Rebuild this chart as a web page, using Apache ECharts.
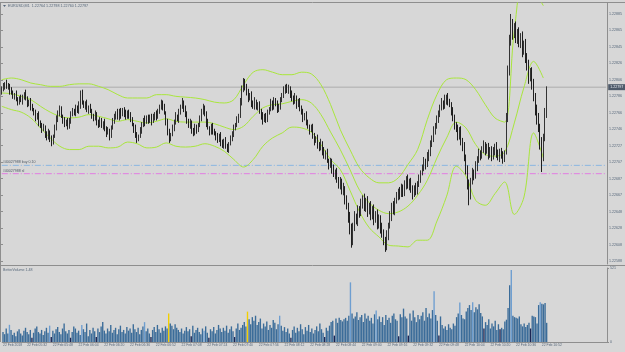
<!DOCTYPE html>
<html>
<head>
<meta charset="utf-8">
<script src="https://cdn.jsdelivr.net/npm/echarts@6/dist/echarts.min.js"></script>
<style>
  html, body { margin: 0; padding: 0; background: #d7d7d7; }
  #main { width: 625px; height: 352px; }
</style>
</head>
<body>
<div id="main"></div>
<script>
// EURUSD M1, 22 Feb 2018. prices kept as points (0.00001) above 1.22000
const BASE = 1.22
const firstOpen = 790
const closes = [
  795,798,801,797,799,793,790,786,788,782,
  779,784,781,785,789,783,777,780,774,770,
  766,760,763,755,751,746,749,741,737,742,
  735,731,738,749,758,767,771,762,757,752,
  755,750,758,764,769,766,772,768,775,790,
  779,774,777,770,773,768,763,759,764,756,
  752,757,750,754,747,742,745,739,748,756,
  762,766,760,768,764,770,765,761,767,763,
  758,752,747,740,735,738,745,752,758,755,
  760,757,762,756,760,765,761,768,774,778,
  772,766,755,744,735,740,748,755,762,758,
  767,773,779,772,764,757,750,754,746,742,
  749,745,752,758,768,773,765,754,748,743,
  750,745,741,737,733,739,731,727,733,726,
  722,729,735,741,747,752,758,762,778,795,
  803,798,790,783,788,778,774,780,772,776,
  768,762,757,763,758,766,771,778,774,781,
  776,770,775,781,787,793,798,792,796,789,
  784,779,785,776,780,772,766,760,764,755,
  750,745,748,739,733,736,728,724,730,721,
  715,718,709,704,708,698,692,696,686,680,
  684,672,676,663,655,640,628,612,630,642,
  636,650,645,657,664,652,660,648,655,643,
  650,638,645,632,640,628,622,612,605,618,
  630,642,655,648,660,665,672,668,677,670,
  680,686,678,684,674,668,676,672,680,687,
  694,700,708,704,713,718,728,736,744,750,
  758,766,772,778,774,781,785,779,776,768,
  760,752,746,738,745,733,725,712,698,680,
  668,684,695,690,702,710,718,714,722,728,
  720,725,716,722,713,719,726,718,712,720,
  715,710,718,760,815,850,872,860,868,855,
  862,849,856,840,848,832,822,808,815,800,
  785,770,758,748,730,712,735,764,797
]
// wick lengths above max(open, close) and below min(open, close), in points
const hiWick = [
  3,4,2,5,3,2,4,3,2,5, 3,2,4,3,2,5,3,2,4,3, 2,4,3,5,2,3,4,2,3,5, 3,4,2,3,5,2,4,3,2,4,
  3,5,2,4,3,2,4,3,5,3, 4,2,3,5,2,4,3,2,5,3, 2,4,3,2,5,3,4,2,3,4, 3,2,5,3,4,2,3,5,2,3,
  4,3,2,5,3,2,4,3,2,5, 3,4,2,3,5,2,4,3,2,4, 3,5,2,4,3,2,4,3,5,2, 4,3,5,2,3,4,2,5,3,2,
  4,3,2,5,3,4,2,3,5,2, 3,4,2,3,5,2,4,3,2,4, 3,2,4,3,5,2,4,3,6,4, 5,4,3,5,2,4,3,5,2,3,
  4,3,5,2,3,4,2,5,3,4, 3,5,2,4,3,5,2,3,4,2, 4,3,5,2,3,4,3,5,2,4, 3,2,4,5,3,2,4,3,5,2,
  4,3,5,2,4,3,6,2,4,3, 5,3,6,2,4,3,7,5,4,6, 3,5,4,6,3,5,4,6,3,5, 4,6,3,5,4,3,6,4,5,7,
  4,6,3,5,4,6,3,5,4,3, 5,4,6,3,4,5,3,6,4,5, 3,4,5,3,6,4,5,3,6,4, 5,3,4,6,3,7,3,5,4,3,
  5,4,3,6,4,5,3,6,4,5, 6,4,5,3,6,4,5,3,4,5, 3,4,5,3,4,6,3,5,4,3, 4,5,3,6,8,10,13,7,6,8,
  5,7,6,8,5,7,6,8,5,6, 7,5,6,8,5,7,6,8,1
]
const loWick = [
  2,3,4,2,3,5,2,3,4,2, 4,3,2,5,3,2,4,3,5,2, 3,4,2,5,3,4,2,5,4,3, 4,5,3,2,4,3,5,2,4,3,
  2,4,3,5,2,3,4,2,3,4, 3,2,4,3,5,2,4,3,2,5, 4,3,2,4,3,5,2,6,3,2, 3,4,2,3,5,2,4,3,2,4,
  3,2,5,4,5,3,2,4,3,5, 2,4,3,5,2,3,4,2,3,4, 3,2,4,5,5,3,2,4,3,2, 4,3,2,5,3,4,2,3,5,4,
  3,4,2,3,2,4,3,5,2,4, 3,5,2,4,3,2,5,3,4,3, 3,4,2,3,4,2,3,4,2,3, 4,5,3,4,2,5,3,4,2,3,
  3,4,5,2,4,3,2,3,5,4, 2,4,3,5,2,3,4,2,3,5, 4,3,2,5,3,4,2,5,3,4, 3,5,2,4,6,3,5,4,3,6,
  4,5,3,6,4,5,3,6,4,5, 6,4,5,7,5,6,8,8,5,6, 4,6,5,3,6,4,5,7,4,6, 5,7,4,6,5,7,6,5,6,4,
  5,3,6,4,5,3,4,6,3,5, 4,6,3,5,4,6,3,5,4,3, 5,3,4,6,3,5,4,3,5,4, 3,4,5,3,4,3,5,4,3,5,
  4,6,3,5,4,6,5,4,6,6, 13,6,4,5,3,6,4,5,3,4, 5,3,6,4,5,3,4,6,3,5, 4,5,3,2,5,4,3,6,4,5,
  6,4,5,7,4,6,5,7,4,6, 5,7,6,5,8,17,4,3,4
]
const volume = [
  70,55,95,60,121,85,50,65,40,75, 90,60,45,80,100,70,55,85,30,65,
  95,110,70,60,85,50,75,100,65,115, 35,80,60,90,105,70,55,95,130,75,
  60,85,30,70,110,95,65,80,50,120, 90,70,130,40,85,60,100,75,35,95,
  70,110,140,80,60,95,75,120,65,85, 100,55,90,115,70,85,60,105,80,95,
  65,125,90,70,100,55,85,110,140,75, 95,60,35,85,105,70,120,90,65,100,
  80,110,95,201,130,115,90,125,100,85, 70,95,60,80,105,75,90,40,115,65,
  85,100,70,55,95,80,110,65,30,90, 75,105,60,85,120,95,70,100,80,115,
  65,90,110,75,35,95,130,85,100,120, 140,110,214,160,125,175,150,185,120,140,
  165,95,130,110,145,85,120,100,155,135, 90,125,185,115,80,105,70,95,60,30,
  85,110,65,100,75,125,90,55,105,80, 120,70,95,60,85,110,75,130,90,65,
  35,100,80,115,140,150,45,165,135,170, 155,145,160,170,150,185,420,200,165,180,
  210,155,175,190,140,200,165,185,150,170, 130,195,221,160,180,140,175,120,190,155,
  170,135,185,200,160,150,40,195,175,235, 180,165,45,200,150,221,175,140,190,160,
  185,210,150,240,175,200,165,225,357,190, 150,45,180,120,95,110,85,125,100,90,
  130,115,175,200,278,190,165,160,215,240, 260,225,280,210,245,230,265,205,180,95,
  140,120,160,95,130,110,150,85,125,90, 100,90,145,157,240,400,507,185,175,170,
  165,180,125,110,130,105,120,135,95,185, 180,175,130,260,280,270,265,275,135
]
const yellowBars = [103, 152]
const navyBars = [18, 30, 42, 58, 92, 117, 128, 144, 179, 200, 206, 246, 252, 271, 299, 309, 328]
const lightBars = [4, 29, 49, 88, 125, 172, 216, 232, 268, 284, 292, 316, 334]

// Bollinger band read every 6th bar, points above 1.22000
const bandStep = 6
const upperBand = [806,808,806,802,800,798,798,800,801,801,798,794,788,784,784,784,788,788,786,785,
  784,782,779,778,782,800,815,818,815,812,812,815,813,800,776,746,722,700,688,682,
  682,688,704,722,758,788,806,808,806,794,776,760,755,865,929,914,895]
const midBand = [790,789,786,782,774,767,762,760,761,764,762,759,756,758,756,754,756,759,756,755,
  755,755,753,749,746,750,762,772,776,777,780,782,778,764,743,722,698,673,658,649,
  645,647,654,667,685,712,736,755,748,728,716,714,719,754,797,828,808]
const lowerBand = [774,770,767,760,748,736,726,722,722,726,726,724,725,731,729,724,725,730,726,725,
  726,729,726,720,710,701,710,726,736,742,749,748,743,728,710,698,673,647,628,617,
  607,606,605,613,613,636,666,702,690,661,655,669,683,644,665,742,712]

const priceTicks = ['1.22885','1.22865','1.22845','1.22826','1.22806','1.22786','1.22766','1.22746',
  '1.22727','1.22707','1.22687','1.22667','1.22648','1.22628','1.22608','1.22588']
const timeTicks = ['22 Feb 2018','22 Feb 05:32','22 Feb 05:48','22 Feb 06:04','22 Feb 06:20','22 Feb 06:36',
  '22 Feb 06:52','22 Feb 07:08','22 Feb 07:24','22 Feb 07:40','22 Feb 07:56','22 Feb 08:12','22 Feb 08:28',
  '22 Feb 08:44','22 Feb 09:00','22 Feb 09:16','22 Feb 09:32','22 Feb 09:48','22 Feb 10:04','22 Feb 10:20',
  '22 Feb 10:36','22 Feb 10:52']
const header = 'EURUSD,M1  1.22764 1.22798 1.22760 1.22797'
const lastPrice = 1.22797
const buyLevel = 1.22703
const slLevel = 1.22693

const N_SLOTS = 376
const slots = Array.from({ length: N_SLOTS }, (_, i) => String(i))
const toPrice = p => +(BASE + p / 100000).toFixed(5)

const candles = closes.map((c, i) => {
  const o = i ? closes[i - 1] : firstOpen
  return [toPrice(o), toPrice(c), toPrice(Math.min(o, c) - loWick[i]), toPrice(Math.max(o, c) + hiWick[i])]
})

const volData = volume.map((v, i) => {
  let color = '#3b6c99'
  if (yellowBars.includes(i)) color = '#f2cf00'
  else if (navyBars.includes(i)) color = '#1c2452'
  else if (lightBars.includes(i)) color = '#6e9ed0'
  return { value: v, itemStyle: { color } }
})

const band = arr => arr.map((p, k) => [k * bandStep, toPrice(p)])

// a label every 16 bars from 05:32, plus the date at the left edge
const tickMap = { 0: timeTicks[0] }
for (let k = 1; k < timeTicks.length; k++) tickMap[15 + 16 * (k - 1)] = timeTicks[k]
const isTick = idx => tickMap[idx] !== undefined

const AX = '#8e8e8e'
const TXT = '#56677a'
const FONT = 'Liberation Sans'

const bandSeries = (data) => ({
  type: 'line', xAxisIndex: 0, yAxisIndex: 0, data, showSymbol: false, smooth: 0.35,
  lineStyle: { color: '#a9e63c', width: 1 }, silent: true, z: 3
})

// horizontal price levels drawn across the whole time axis
const levelSeries = (price, color, type, label) => ({
  type: 'line', xAxisIndex: 0, yAxisIndex: 0, silent: true, z: 2,
  symbol: 'circle', symbolSize: 0, showSymbol: true,
  lineStyle: { color, type, width: 1 },
  data: [
    { value: [0, price], label: label.start ? {
      show: true, position: [1, -5], formatter: label.start, color: '#4f5a66', fontSize: 3.6, fontFamily: FONT
    } : { show: false } },
    { value: [N_SLOTS - 1, price], label: label.end ? {
      show: true, position: 'right', distance: 2, formatter: label.end, backgroundColor: '#4e5a6a',
      color: '#eef2f6', fontSize: 3.6, padding: [1, 3, 1, 2], fontFamily: FONT
    } : { show: false } }
  ],
  clip: false
})

const myChart = echarts.init(document.getElementById('main'))
const option = {
  animation: false,
  backgroundColor: '#d7d7d7',
  textStyle: { fontFamily: FONT },
  grid: [
    { left: 1, right: 18, top: 3, height: 261 },
    { left: 1, right: 18, top: 268, height: 74 },
    { left: 1, right: 18, top: 14, height: 247 }
  ],
  xAxis: [
    { type: 'category', gridIndex: 0, data: slots, axisLine: { show: false }, axisTick: { show: false }, axisLabel: { show: false } },
    {
      type: 'category', gridIndex: 1, data: slots,
      axisLine: { lineStyle: { color: AX } },
      axisTick: { interval: isTick, alignWithLabel: true, length: 2, lineStyle: { color: AX } },
      axisLabel: {
        interval: isTick, formatter: (v, idx) => tickMap[idx] || '',
        align: 'left', margin: 2, fontSize: 3.4, color: TXT, fontFamily: FONT
      }
    },
    { type: 'value', gridIndex: 2, show: false }
  ],
  yAxis: [
    {
      type: 'value', gridIndex: 0, position: 'right', min: 1.225844, max: 1.228982,
      axisLine: { show: true, lineStyle: { color: AX } }, axisTick: { show: false },
      axisLabel: { show: false }, splitLine: { show: false }
    },
    {
      type: 'value', gridIndex: 1, position: 'right', min: 0, max: 521, interval: 521,
      axisLine: { show: true, lineStyle: { color: AX } },
      axisTick: { show: true, length: 2, lineStyle: { color: AX } },
      axisLabel: { fontSize: 3.6, color: TXT, margin: 3, fontFamily: FONT }, splitLine: { show: false }
    },
    {
      type: 'value', gridIndex: 2, position: 'right', min: 0, max: 15, interval: 1,
      axisLine: { show: false },
      axisTick: { show: true, length: 2, lineStyle: { color: AX } },
      axisLabel: { formatter: v => priceTicks[15 - v], fontSize: 3.6, color: TXT, margin: 3, fontFamily: FONT },
      splitLine: { show: false }
    }
  ],
  series: [
    levelSeries(lastPrice, '#adadad', 'solid', { end: '1.22797' }),
    levelSeries(buyLevel, '#8ab6e2', [6, 2, 1, 2], { start: '#40027988 buy 0.10' }),
    levelSeries(slLevel, '#e27de2', [6, 2, 1, 2], { start: '#40027988 sl' }),
    bandSeries(band(upperBand)),
    bandSeries(band(midBand)),
    bandSeries(band(lowerBand)),
    {
      type: 'candlestick', xAxisIndex: 0, yAxisIndex: 0, data: candles, barWidth: 1.2, z: 4,
      itemStyle: { color: '#8fbbe8', color0: '#1f1f1f', borderColor: '#333333', borderColor0: '#1f1f1f', borderWidth: 1 }
    },
    {
      type: 'bar', xAxisIndex: 1, yAxisIndex: 1, data: volData, barCategoryGap: '15%', silent: true
    }
  ],
  graphic: [
    { type: 'line', shape: { x1: 0, y1: 2.5, x2: 625, y2: 2.5 }, style: { stroke: AX, lineWidth: 1 }, silent: true },
    { type: 'line', shape: { x1: 0, y1: 265.5, x2: 625, y2: 265.5 }, style: { stroke: AX, lineWidth: 1 }, silent: true },
    { type: 'line', shape: { x1: 0.5, y1: 2, x2: 0.5, y2: 342 }, style: { stroke: AX, lineWidth: 1 }, silent: true },
    { type: 'polygon', shape: { points: [[3, 5], [6, 5], [4.5, 7]] }, style: { fill: '#56677a' }, silent: true },
    { type: 'text', left: 8, top: 4, style: { text: header, fontSize: 3.7, fill: TXT, fontFamily: FONT }, silent: true },
    { type: 'text', left: 3, top: 268, style: { text: 'BetterVolume 1.48', fontSize: 3.6, fill: TXT, fontFamily: FONT }, silent: true }
  ]
}
myChart.setOption(option)
</script>
</body>
</html>
